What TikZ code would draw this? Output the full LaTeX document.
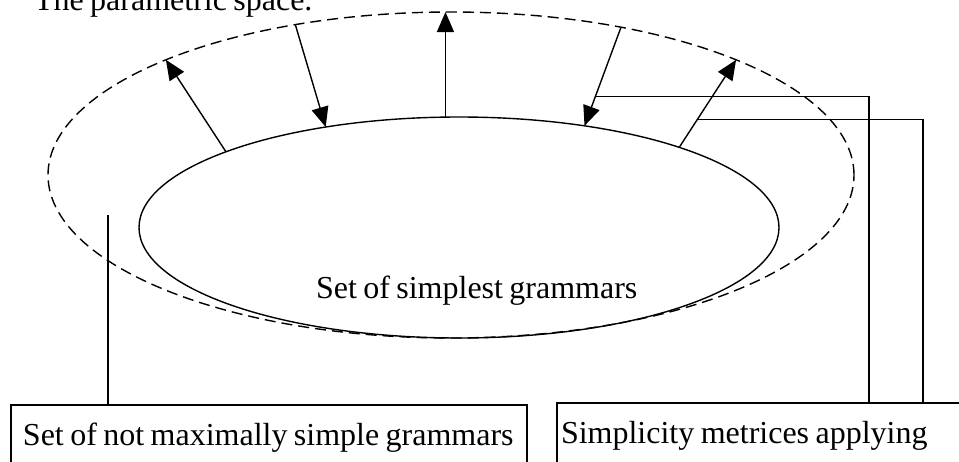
\documentclass[tikz,border=0pt]{standalone}
\usepackage{fontspec}
\setmainfont{Liberation Serif}[WordSpace=0.8]
\usetikzlibrary{shapes.geometric,arrows.meta}

\begin{document}
\begin{tikzpicture}[x=1pt, y=-1pt, line width=1.4pt,
    font=\fontsize{32}{38}\selectfont,
    set/.style={ellipse, draw, inner sep=0pt, outer sep=0pt},
    push/.style={-{Triangle[length=20pt,width=17pt]}},
    labelbox/.style={rectangle, draw, anchor=north west, inner xsep=12pt, inner ysep=18pt, outer sep=0pt}]
    \clip (0,0) rectangle (959,461);
    % Title
    \node[anchor=base west] (title) at (30,10) {The parametric space.};
    % The two sets
    \node[set, dash pattern=on 11pt off 6pt, minimum width=806pt, minimum height=326pt] (space) at (451,175) {};
    \node[set, minimum width=640pt, minimum height=221pt] (simplest) at (459,227.5) {};
    \node[anchor=base west] (simplestlabel) at (312,298) {Set of simplest grammars};
    % Arrows between the sets
    \draw[push] (simplest.162.7) -- (space.158.9);
    \draw[push] (space.136.7) -- (simplest.143);
    \draw[push] (simplest.97.7) -- (space.north -| simplest.97.7);
    \draw[push] (space.41.8) -- coordinate[pos=0.7] (tapA) (simplest.39.8);
    \draw[push] (simplest.20.8) -- coordinate[pos=0.315] (tapB) (space.22.2);
    % Boxes
    \node[labelbox] (notmax) at (11,405) {\makebox[492pt][l]{Set of not maximally simple grammars}};
    \node[labelbox, inner xsep=4pt] (metric) at (557,403) {\makebox[420pt][l]{Simplicity metrices applying}};
    % Callout lines
    \coordinate (tapC) at (108,215);
    \draw (tapC) -- (tapC |- notmax.north);
    \coordinate (turnA) at (869,0);
    \coordinate (turnB) at (923,0);
    \draw (tapA) -| (turnA |- metric.north);
    \draw (tapB) -| (turnB |- metric.north);
\end{tikzpicture}
\end{document}
